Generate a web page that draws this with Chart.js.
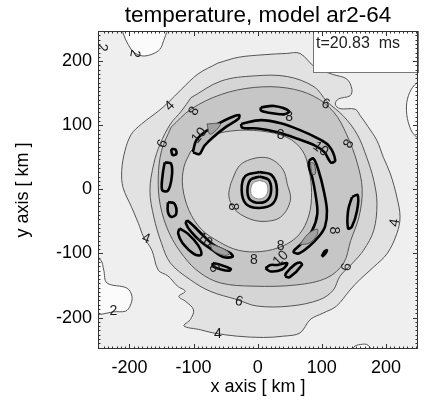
<!DOCTYPE html>
<html>
<head>
<meta charset="utf-8">
<script src="https://cdn.jsdelivr.net/npm/chart.js@4/dist/chart.umd.min.js"></script>
<style>
  html, body { margin: 0; padding: 0; background: #fff; }
</style>
</head>
<body>
<canvas id="chart" width="447" height="413"></canvas>
<script>
// contour outlines, [x km, y km]
const low2TopLeft = [[-212,256],[-210,244],[-202,226],[-192,213],[-176,208],[-155,216],[-148,228],[-143,256]];
const low2BottomLeft = [[-260,-105],[-245,-110],[-240,-126],[-235,-146],[-204,-154],[-196,-167],[-199,-182],[-206,-190],[-225,-191],[-245,-195],[-260,-195]];
const low2Right = [[260,170],[248,166],[237,151],[232,130],[235,104],[245,84],[260,80]];
const low2Bottom = [[146,-260],[150,-246],[160,-242],[172,-243],[180,-260]];

const contour4 = [[-62,197],[-30,206],[10,210],[45,212],[66,212],[90,190],[118,179],[139,172],[147,156],[144,146],[126,141],[121,133],[128,126],[152,125],[160,115],[172,98],[186,76],[196,50],[207,24],[217,-12],[222,-43],[217,-69],[202,-100],[181,-121],[160,-140],[144,-157],[123,-182],[102,-193],[82,-203],[66,-224],[40,-229],[9,-231],[-32,-229],[-69,-224],[-89,-219],[-115,-213],[-105,-203],[-100,-188],[-112,-175],[-123,-167],[-113,-159],[-125,-151],[-140,-135],[-155,-126],[-165,-95],[-178,-74],[-186,-53],[-197,-27],[-210,3],[-212,29],[-207,60],[-197,86],[-181,102],[-155,122],[-140,135],[-119,156],[-93,180]];

const contour6 = [[-104,143],[-57,169],[-5,177],[46,176],[88,160],[108,137],[134,114],[155,86],[170,50],[181,14],[186,-22],[181,-64],[165,-95],[148,-115],[128,-136],[118,-157],[97,-172],[51,-182],[-1,-182],[-32,-172],[-74,-159],[-105,-141],[-136,-115],[-150,-84],[-162,-43],[-168,-2],[-162,40],[-152,71],[-136,102],[-119,122]];

const ring8Outer = [[-135,97],[-104,125],[-57,148],[-5,159],[46,158],[88,145],[119,120],[139,85],[155,42],[163,0],[158,-43],[145,-80],[134,-115],[108,-138],[61,-149],[-7,-151],[-58,-146],[-90,-130],[-115,-105],[-138,-68],[-152,-24],[-155,19],[-150,60]];
const ring8Inner = [[-104,60],[-78,81],[-42,91],[5,91],[46,81],[70,60],[80,30],[84,-5],[80,-40],[65,-70],[40,-88],[5,-97],[-30,-95],[-60,-82],[-88,-62],[-107,-33],[-117,4],[-115,35]];
const core8 = [[-42,9],[-30,35],[-16,45],[8,50],[25,45],[40,30],[46,9],[51,-17],[36,-43],[10,-50],[-15,-45],[-37,-30],[-45,-10]];
const coreOuter = [[3,27],[22,22],[30,0],[24,-22],[3,-29],[-18,-23],[-25,-1],[-19,21]];
const coreInner = [[3,20],[17,15],[21,-1],[16,-16],[3,-21],[-12,-16],[-16,-1],[-11,15]];
const coreHole = [[3,14],[13,10],[16,-1],[12,-11],[3,-15],[-8,-11],[-11,-1],[-7,10]];

const hot10 = [
  [[-101,58],[-96,76],[-83,89],[-62,102],[-42,112],[-29,116],[-30,110],[-50,97],[-70,81],[-83,68],[-91,55]],
  [[-26,102],[5,108],[36,103],[67,92],[93,80],[111,68],[121,45],[114,42],[104,58],[88,69],[62,79],[31,89],[0,95],[-24,96]],
  [[5,128],[26,130],[49,122],[41,117],[15,120],[5,123]],
  [[80,45],[87,48],[95,29],[103,-2],[108,-33],[105,-58],[95,-74],[80,-89],[64,-100],[56,-97],[69,-84],[85,-64],[93,-38],[90,-7],[85,19],[80,35]],
  [[12,-123],[20,-128],[38,-125],[46,-115],[31,-118],[20,-118]],
  [[43,-136],[50,-137],[69,-118],[66,-114],[58,-117],[44,-131]],
  [[100,-105],[104,-102],[108,-95],[104,-97]],
  [[147,-12],[156,-9],[155,-33],[147,-58],[141,-61],[141,-33]],
  [[-145,42],[-135,40],[-134,19],[-140,-2],[-149,-1],[-148,24]],
  [[-135,63],[-128,62],[-127,55],[-133,54]],
  [[-140,-20],[-130,-22],[-127,-38],[-134,-43],[-140,-35]],
  [[-122,-61],[-109,-69],[-93,-87],[-88,-102],[-99,-101],[-117,-84],[-124,-69]],
  [[-110,-48],[-99,-58],[-83,-74],[-68,-87],[-42,-100],[-39,-105],[-55,-105],[-70,-95],[-88,-82],[-104,-66],[-112,-53]],
  [[-70,-115],[-60,-117],[-42,-124],[-45,-127],[-60,-124],[-70,-120]]
];
const hot12 = [
  [[-79,102],[-58,102],[-74,86]],
  [[66,-86],[78,-70],[93,-62],[92,-72],[80,-84]],
  [[-74,-85],[-55,-92],[-44,-100],[-52,-103],[-70,-95]],
  [[82,42],[88,40],[90,24],[85,24]]
];

// contour labels
const labelText  = ['2','2','2','4','4','4','4','6','6','6','6','8','8','8','8','8','8','8','8','8','10','10','10','10'];
const labelX     = [-243,-192,-225,-137,-174,-62,214,-148,106,-29,139,-99,49,36,142,-39,119,36,-6,-68,-91,98,-83,36];
const labelY     = [221,212,-190,130,-77,-226,-52,71,133,-175,-121,122,113,85,71,-27,-64,-88,-110,-123,84,63,-79,-108];
const labelAngle = [90,100,0,-45,20,0,-80,-70,20,15,-80,-60,0,0,-60,90,90,0,0,60,-50,35,40,-45];

const xTicks = [-200, -100, 0, 100, 200];
const yTicks = [-200, -100, 0, 100, 200];
const timeLabel = 't=20.83  ms';

const FONT = "'Liberation Sans', Arial, Helvetica, sans-serif";
const styles = {
  low:   { bg: '#fbfbfb', line: '#555', w: 1 },
  c4:    { bg: '#e2e2e2', line: '#555', w: 1 },
  c6:    { bg: '#d5d5d5', line: '#555', w: 1 },
  ring:  { bg: '#c6c6c6', line: '#555', w: 1 },
  inner: { bg: '#d8d8d8', line: '#555', w: 1 },
  core:  { bg: '#cbcbcb', line: '#555', w: 1 },
  c10:   { bg: '#bbbbbb', line: '#000', w: 2.6 },
  c12:   { bg: '#a2a2a2', line: '#555', w: 1 },
  hole:  { bg: '#ffffff', line: '#888', w: 1 }
};

const layers = [
  [low2TopLeft, 'low'], [low2BottomLeft, 'low'], [low2Right, 'low'], [low2Bottom, 'low'],
  [contour4, 'c4'], [contour6, 'c6'], [ring8Outer, 'ring'], [ring8Inner, 'inner'], [core8, 'core'],
  ...hot10.map(p => [p, 'c10']),
  ...hot12.map(p => [p, 'c12']),
  [coreOuter, 'c10'], [coreInner, 'c10'], [coreHole, 'hole']
];

const datasets = layers.map(([pts, kind], i) => {
  const st = styles[kind];
  return {
    data: [...pts, pts[0]].map(p => ({ x: p[0], y: p[1] })),
    showLine: true,
    fill: 'shape',
    backgroundColor: st.bg,
    borderColor: st.line,
    borderWidth: st.w,
    borderJoinStyle: 'round',
    pointRadius: 0,
    tension: 0.35,
    order: layers.length - i
  };
});

const plotBackground = {
  id: 'plotBackground',
  beforeDatasetsDraw(chart) {
    const { ctx, chartArea: a } = chart;
    ctx.save();
    ctx.fillStyle = '#efefef';
    ctx.fillRect(a.left, a.top, a.right - a.left, a.bottom - a.top);
    ctx.restore();
  }
};

const decorations = {
  id: 'decorations',
  afterDatasetsDraw(chart) {
    const { ctx, chartArea: a, scales: { x, y } } = chart;
    ctx.save();
    ctx.beginPath();
    ctx.rect(a.left, a.top, a.right - a.left, a.bottom - a.top);
    ctx.clip();
    // contour labels
    ctx.fillStyle = '#1a1a1a';
    ctx.font = '14px ' + FONT;
    ctx.textAlign = 'center';
    ctx.textBaseline = 'middle';
    labelText.forEach((t, i) => {
      ctx.save();
      ctx.translate(x.getPixelForValue(labelX[i]), y.getPixelForValue(labelY[i]));
      ctx.rotate(labelAngle[i] * Math.PI / 180);
      ctx.fillText(t, 0, 0);
      ctx.restore();
    });
    ctx.restore();

    // time box
    ctx.save();
    const bx = 313, by = a.top, bw = a.right - bx, bh = 41;
    ctx.fillStyle = '#fff';
    ctx.fillRect(bx, by, bw, bh);
    ctx.strokeStyle = '#777';
    ctx.lineWidth = 1;
    ctx.strokeRect(bx + 0.5, by + 0.5, bw, bh);
    ctx.fillStyle = '#222';
    ctx.font = '16px ' + FONT;
    ctx.textBaseline = 'middle';
    ctx.fillText(timeLabel, bx + 3, by + 13);
    ctx.restore();

    // frame and inward ticks
    ctx.save();
    ctx.strokeStyle = '#333';
    ctx.lineWidth = 1;
    ctx.strokeRect(a.left + 0.5, a.top + 0.5, a.right - a.left - 1, a.bottom - a.top - 1);
    ctx.beginPath();
    for (let v = -240; v <= 250; v += 100 / 15) {
      const major = Math.abs(v / 100 - Math.round(v / 100)) < 1e-6;
      const len = major ? 5 : 2.5;
      const px = Math.round(x.getPixelForValue(v)) + 0.5;
      if (px > a.left + 1 && px < a.right - 1) {
        ctx.moveTo(px, a.bottom); ctx.lineTo(px, a.bottom - len);
        ctx.moveTo(px, a.top); ctx.lineTo(px, a.top + len);
      }
      const py = Math.round(y.getPixelForValue(v)) + 0.5;
      if (py > a.top + 1 && py < a.bottom - 1) {
        ctx.moveTo(a.left, py); ctx.lineTo(a.left + len, py);
        ctx.moveTo(a.right, py); ctx.lineTo(a.right - len, py);
      }
    }
    ctx.stroke();
    ctx.restore();
  }
};

new Chart(document.getElementById('chart'), {
  type: 'scatter',
  data: { datasets },
  options: {
    responsive: false,
    devicePixelRatio: 1,
    animation: false,
    layout: { padding: { left: 0, right: 29, top: 0, bottom: 0 } },
    plugins: {
      legend: { display: false },
      tooltip: { enabled: false },
      title: {
        display: true,
        fullSize: false,
        text: 'temperature, model ar2-64',
        color: '#000',
        font: { family: FONT, size: 22.5, weight: 'normal' },
        padding: { top: 2, bottom: 2 }
      }
    },
    scales: {
      x: {
        type: 'linear', min: -249, max: 250,
        afterBuildTicks: s => { s.ticks = xTicks.map(v => ({ value: v })); },
        afterFit: s => { s.height = 64; },
        grid: { display: false, drawTicks: false },
        border: { display: false },
        ticks: { color: '#000', font: { family: FONT, size: 18 }, padding: 8, maxRotation: 0, autoSkip: false },
        title: { display: true, text: 'x axis [ km ]', color: '#000', font: { family: FONT, size: 18 }, padding: { top: 0, bottom: 15 } }
      },
      y: {
        type: 'linear', min: -249, max: 247,
        afterBuildTicks: s => { s.ticks = yTicks.map(v => ({ value: v })); },
        afterFit: s => { s.width = 98; },
        grid: { display: false, drawTicks: false },
        border: { display: false },
        ticks: { color: '#000', font: { family: FONT, size: 18 }, padding: 6, autoSkip: false },
        title: { display: true, text: 'y axis [ km ]', color: '#000', font: { family: FONT, size: 18 }, padding: { top: 12, bottom: 0 } }
      }
    }
  },
  plugins: [plotBackground, decorations]
});
</script>
</body>
</html>
